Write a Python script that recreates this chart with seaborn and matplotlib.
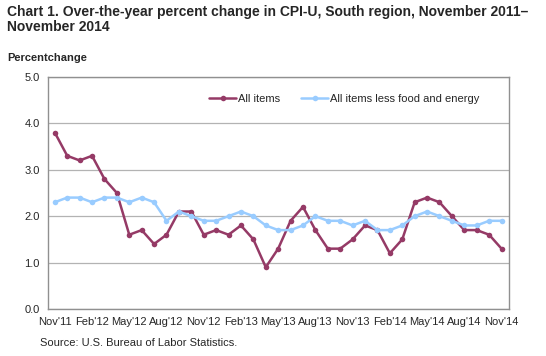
import matplotlib
matplotlib.use("Agg")
import matplotlib.pyplot as plt
import seaborn as sns
import pandas as pd

# monthly values, Nov 2011 - Nov 2014
months = ["Nov'11", "Dec'11", "Jan'12", "Feb'12", "Mar'12", "Apr'12", "May'12", "Jun'12",
          "Jul'12", "Aug'12", "Sep'12", "Oct'12", "Nov'12", "Dec'12", "Jan'13", "Feb'13",
          "Mar'13", "Apr'13", "May'13", "Jun'13", "Jul'13", "Aug'13", "Sep'13", "Oct'13",
          "Nov'13", "Dec'13", "Jan'14", "Feb'14", "Mar'14", "Apr'14", "May'14", "Jun'14",
          "Jul'14", "Aug'14", "Sep'14", "Oct'14", "Nov'14"]
all_items = [3.8, 3.3, 3.2, 3.3, 2.8, 2.5, 1.6, 1.7, 1.4, 1.6, 2.1, 2.1,
             1.6, 1.7, 1.6, 1.8, 1.5, 0.9, 1.3, 1.9, 2.2, 1.7, 1.3, 1.3,
             1.5, 1.8, 1.7, 1.2, 1.5, 2.3, 2.4, 2.3, 2.0, 1.7, 1.7, 1.6, 1.3]
core = [2.3, 2.4, 2.4, 2.3, 2.4, 2.4, 2.3, 2.4, 2.3, 1.9, 2.1, 2.0,
        1.9, 1.9, 2.0, 2.1, 2.0, 1.8, 1.7, 1.7, 1.8, 2.0, 1.9, 1.9,
        1.8, 1.9, 1.7, 1.7, 1.8, 2.0, 2.1, 2.0, 1.9, 1.8, 1.8, 1.9, 1.9]
series_names = ["All items", "All items less food and energy"]
y_ticks = [0.0, 1.0, 2.0, 3.0, 4.0, 5.0]

df = pd.DataFrame({
    "pos": list(range(len(months))) * 2,
    "value": all_items + core,
    "series": [series_names[0]] * len(months) + [series_names[1]] * len(months),
})

sns.set_style("white")
plt.rcParams["font.family"] = ["Liberation Sans", "DejaVu Sans"]

fig = plt.figure(figsize=(5.46, 3.56), dpi=100)
ax = fig.add_axes([0.0879, 0.132, 0.8443, 0.652])

sns.lineplot(data=df, x="pos", y="value", hue="series",
             palette=["#953a66", "#99ccff"], marker="o", markersize=4,
             markeredgewidth=0, linewidth=1.8, ax=ax)

ax.set_xlim(-0.55, 36.6)
ax.set_ylim(0, 5)
ax.set_yticks(y_ticks)
ax.set_yticklabels([f"{v:.1f}" for v in y_ticks], fontsize=8)
ax.set_xticks(range(0, len(months), 3))
ax.set_xticklabels(months[::3], fontsize=8)
ax.tick_params(axis="both", length=0, pad=6)
ax.grid(axis="y", color="#b3b3b3", linewidth=0.9)
ax.set_axisbelow(True)
for s in ax.spines.values():
    s.set_color("#909090")
    s.set_linewidth(1.0)
ax.set_xlabel("")
ax.set_ylabel("")

ax.legend(loc="center", bbox_to_anchor=(0.631, 0.722), bbox_transform=fig.transFigure,
          ncol=2, frameon=False, fontsize=8, handlelength=2.4, handletextpad=0.2,
          columnspacing=1.9)

fig.text(0.013, 0.985, "Chart 1. Over-the-year percent change in CPI-U, South region, November 2011\u2013\nNovember 2014",
         fontsize=10, fontweight="bold", va="top", ha="left", linespacing=1.1)
fig.text(0.013, 0.838, "Percentchange", fontsize=8, fontweight="bold", va="center", ha="left")
fig.text(0.073, 0.037, "Source: U.S. Bureau of Labor Statistics.", fontsize=8, va="center", ha="left")

fig.savefig("out.png", dpi=100)
